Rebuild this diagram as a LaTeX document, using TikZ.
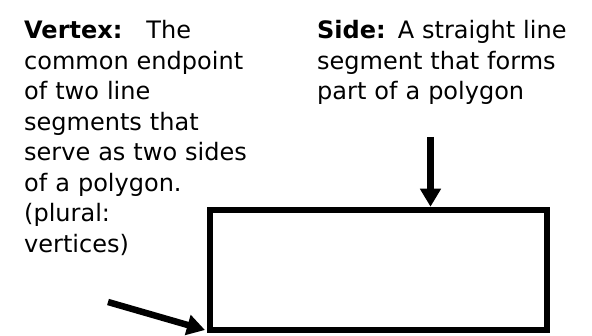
\documentclass[tikz,border=0pt]{standalone}
\usepackage{fontspec}
\setmainfont{DejaVu Sans}
\usetikzlibrary{arrows.meta}
\tikzset{
  deftext/.style={anchor=base west, inner sep=0pt, align=left, text width=280pt,
    font=\fontsize{24}{30.5}\selectfont},
  polybox/.style={draw, line width=6.5pt, minimum width=337pt, minimum height=120pt,
    inner sep=0pt, anchor=north west},
  pointer/.style={line width=6.5pt, -{Triangle[length=18pt,width=20pt]}}
}
\begin{document}
\begin{tikzpicture}[x=1pt,y=-1pt]
\fill[white] (0,0) rectangle (592,336);
\useasboundingbox (0,0) rectangle (592,336);
\node[deftext] (vertex) at (24,39) {\textbf{Vertex:}\hspace{24pt}The\\common endpoint\\of two line\\segments that\\serve as two sides\\of a polygon.\\(plural:\\vertices)};
\node[deftext] (side) at (317,39) {\textbf{Side:} A straight line\\segment that forms\\part of a polygon};
\node[polybox] (poly) at (206.75,206.75) {};
\coordinate (sidetail) at (430.5,137);
\coordinate (vtail) at (108,302);
\coordinate (vtip) at (205,330);
\draw[pointer] (sidetail) -- (sidetail |- poly.north);
\draw[pointer] (vtail) -- (vtip);
\end{tikzpicture}
\end{document}
